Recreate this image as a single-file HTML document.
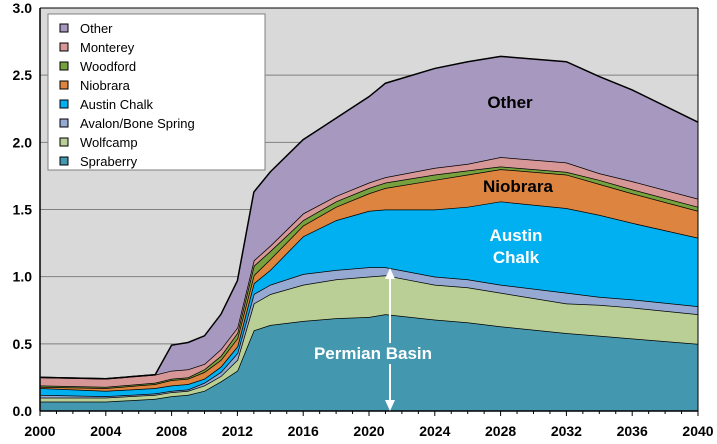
<!DOCTYPE html>
<html><head><meta charset="utf-8"><style>
body{margin:0;background:#fff;}
svg{display:block;font-family:"Liberation Sans",Arial,sans-serif;}
</style></head><body>
<svg id="chart" width="717" height="444" viewBox="0 0 717 444"></svg>
<script>
const years=[2000,2004,2007,2008,2009,2010,2011,2012,2013,2014,2016,2018,2020,2021,2024,2026,2028,2032,2034,2036,2040];
const spraberry=[0.07,0.07,0.09,0.11,0.12,0.15,0.22,0.30,0.60,0.64,0.67,0.69,0.70,0.72,0.68,0.66,0.63,0.58,0.56,0.54,0.50];
const wolfcamp=[0.03,0.03,0.03,0.03,0.03,0.04,0.04,0.08,0.20,0.23,0.27,0.29,0.30,0.29,0.26,0.26,0.25,0.22,0.23,0.23,0.22];
const avalon=[0.02,0.01,0.01,0.01,0.01,0.02,0.03,0.05,0.07,0.07,0.08,0.07,0.07,0.06,0.06,0.06,0.06,0.08,0.06,0.06,0.06];
const austinChalk=[0.05,0.04,0.04,0.04,0.04,0.03,0.04,0.05,0.08,0.11,0.28,0.37,0.42,0.43,0.50,0.54,0.62,0.63,0.61,0.57,0.51];
const niobrara=[0.01,0.02,0.03,0.04,0.04,0.05,0.05,0.06,0.06,0.08,0.08,0.10,0.13,0.16,0.22,0.24,0.24,0.25,0.23,0.22,0.20];
const woodford=[0.01,0.01,0.01,0.01,0.01,0.02,0.03,0.04,0.07,0.06,0.04,0.04,0.04,0.04,0.04,0.03,0.02,0.02,0.03,0.03,0.03];
const monterey=[0.06,0.06,0.06,0.06,0.06,0.04,0.05,0.04,0.04,0.04,0.05,0.04,0.04,0.04,0.05,0.05,0.07,0.07,0.05,0.06,0.06];
const other=[0,0,0,0.19,0.20,0.21,0.26,0.35,0.51,0.55,0.55,0.58,0.64,0.70,0.74,0.76,0.75,0.75,0.72,0.68,0.57];
const yTicks=[0,0.5,1.0,1.5,2.0,2.5,3.0];
const xLabels=[2000,2004,2008,2012,2016,2020,2024,2028,2032,2036,2040];

const NS="http://www.w3.org/2000/svg";
const svg=document.getElementById('chart');
const X0=40,X1=698,Y0=411,Y1=8;
const xs=y=>X0+(y-2000)/40*(X1-X0);
const ys=v=>Y0-v/3*(Y0-Y1);
function mk(t,a){const e=document.createElementNS(NS,t);for(const k in a)e.setAttribute(k,a[k]);svg.appendChild(e);return e;}

let el=mk('rect',{x:X0,y:Y1,width:X1-X0,height:Y0-Y1,fill:'#D9D9D9'});


yTicks.forEach(v=>{
  if(v>0&&v<3){const g=mk('line',{x1:X0,x2:X1,y1:ys(v),y2:ys(v),stroke:'#808080','stroke-width':1});
  
  }
  const t=mk('text',{x:32,y:ys(v)+5,'text-anchor':'end','font-size':14,'font-weight':'bold',fill:'#000'});
  t.textContent=v.toFixed(1);
  
  
});
const series=[
 ['spraberry',spraberry,'#4398B0','Spraberry'],
 ['wolfcamp',wolfcamp,'#B9CF96','Wolfcamp'],
 ['avalon-bone-spring',avalon,'#95A9D3','Avalon/Bone Spring'],
 ['austin-chalk',austinChalk,'#00B0F0','Austin Chalk'],
 ['niobrara',niobrara,'#DD8440','Niobrara'],
 ['woodford',woodford,'#77A03F','Woodford'],
 ['monterey',monterey,'#D79797','Monterey'],
 ['other',other,'#A698BF','Other']];
let base=years.map(()=>0);
series.forEach(s=>{
  const top=base.map((b,i)=>b+s[1][i]);
  let d='M'+years.map((y,i)=>xs(y)+','+ys(top[i])).join('L');
  for(let i=years.length-1;i>=0;i--)d+='L'+xs(years[i])+','+ys(base[i]);
  d+='Z';
  const p=mk('path',{d:d,fill:s[2],stroke:'none'});
  
  
  const l=mk('path',{d:'M'+years.map((y,i)=>xs(y)+','+ys(top[i])).join('L'),fill:'none',stroke:'#000','stroke-width':1.5});
  
  
  base=top;
});
el=mk('line',{x1:X0,x2:X0,y1:Y1,y2:Y0,stroke:'#000','stroke-width':1.5});


el=mk('line',{x1:X1,x2:X1,y1:Y1,y2:Y0,stroke:'#000','stroke-width':1});


el=mk('line',{x1:X0,x2:X1,y1:Y1,y2:Y1,stroke:'#000','stroke-width':1});


el=mk('line',{x1:X0,x2:X1,y1:Y0,y2:Y0,stroke:'#000','stroke-width':1.5});


for(let y=2000;y<=2040;y++){
  const tk=mk('line',{x1:xs(y),x2:xs(y),y1:Y0,y2:Y0+(y%4==0?5:3),stroke:'#000','stroke-width':1});
  
  
}
xLabels.forEach(y=>{
  const t=mk('text',{x:xs(y),y:436,'text-anchor':'middle','font-size':14,'font-weight':'bold',fill:'#000'});
  t.textContent=y;
  
  
});
function lab(txt,x,y,col,name){const t=mk('text',{x:x,y:y,'text-anchor':'middle','font-size':17,'font-weight':'bold',fill:col});t.textContent=txt;

}
lab('Other',510,108,'#000','label-other');
lab('Niobrara',518,192,'#000','label-niobrara');
lab('Austin',516,241,'#fff','label-austin');
lab('Chalk',516,263,'#fff','label-chalk');
lab('Permian Basin',373,359,'#fff','label-permian-basin');
el=mk('path',{d:'M390,270L390,343M390,364L390,408',stroke:'#fff','stroke-width':2,fill:'none'});


el=mk('path',{d:'M385,279L390,268L395,279ZM385,400L390,411L395,400Z',fill:'#fff'});


el=mk('rect',{x:48,y:14,width:217,height:156,fill:'#fff',stroke:'#808080','stroke-width':1});


series.slice().reverse().forEach((s,i)=>{
  const y=28+i*19;
  const r=mk('rect',{x:60,y:y-4,width:8,height:8,fill:s[2],stroke:'#000','stroke-width':1});
  
  
  const t=mk('text',{x:80,y:y+5,'font-size':13,fill:'#000'});
  t.textContent=s[3];
  
  
});
</script>
</body></html>
